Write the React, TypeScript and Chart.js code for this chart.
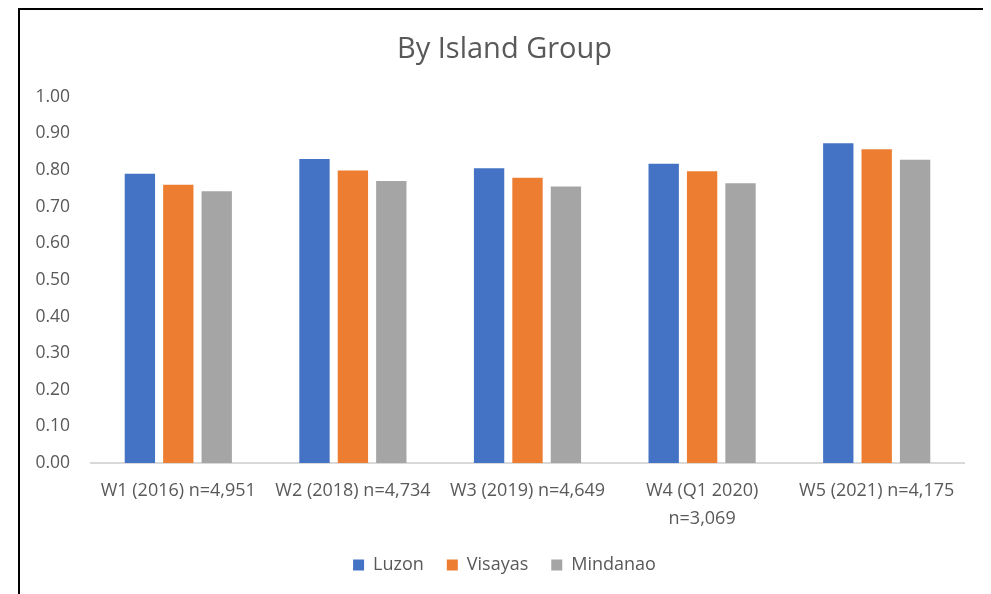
import React, { useEffect, useRef } from "react";
import { Chart, registerables } from "chart.js";

Chart.register(...registerables);

const categories: (string | string[])[] = [
  "W1 (2016) n=4,951",
  "W2 (2018) n=4,734",
  "W3 (2019) n=4,649",
  ["W4 (Q1 2020)", "n=3,069"],
  "W5 (2021) n=4,175",
];

const luzon = [0.79, 0.83, 0.805, 0.817, 0.873];
const visayas = [0.76, 0.799, 0.779, 0.797, 0.857];
const mindanao = [0.742, 0.77, 0.755, 0.764, 0.828];

const FONT = "'Open Sans', sans-serif";
const TEXT = "#595959";

export default function App() {
  const canvasRef = useRef<HTMLCanvasElement | null>(null);

  useEffect(() => {
    const ctx = canvasRef.current;
    if (!ctx) return;
    const chart = new Chart(ctx, {
      type: "bar",
      data: {
        labels: categories,
        datasets: [
          { label: "Luzon", data: luzon, backgroundColor: "#4472C4" },
          { label: "Visayas", data: visayas, backgroundColor: "#ED7D31" },
          { label: "Mindanao", data: mindanao, backgroundColor: "#A5A5A5" },
        ],
      },
      options: {
        animation: false,
        responsive: false,
        maintainAspectRatio: false,
        datasets: {
          bar: { categoryPercentage: 0.66, barPercentage: 0.79 },
        },
        layout: { padding: { left: 0, right: 0, top: 0, bottom: 10 } },
        plugins: {
          title: {
            display: true,
            text: "By Island Group",
            color: TEXT,
            font: { family: FONT, size: 29, weight: "normal" },
            padding: { top: 22, bottom: 30 },
          },
          legend: {
            position: "bottom",
            labels: {
              color: TEXT,
              font: { family: FONT, size: 18 },
              boxWidth: 11,
              boxHeight: 11,
              padding: 23,
            },
          },
          tooltip: { enabled: false },
        },
        scales: {
          x: {
            grid: { display: false, drawTicks: false },
            border: { display: true, color: "#D9D9D9", width: 2 },
            ticks: {
              color: TEXT,
              font: { family: FONT, size: 18, lineHeight: 1.55 },
              padding: 14,
              maxRotation: 0,
              autoSkip: false,
            },
            afterFit: (s: any) => {
              s.height = 70;
            },
          },
          y: {
            min: 0,
            max: 1,
            grid: { display: false, drawTicks: false },
            border: { display: false },
            ticks: {
              stepSize: 0.1,
              color: TEXT,
              font: { family: FONT, size: 17.5 },
              padding: 21,
              callback: (v: any) => Number(v).toFixed(2),
            },
            afterFit: (s: any) => {
              s.width = 71;
            },
          },
          // empty right-hand gutter so the plot ends short of the frame
          gutter: {
            position: "right",
            display: true,
            grid: { display: false, drawTicks: false },
            border: { display: false },
            ticks: { display: false },
            afterFit: (s: any) => {
              s.width = 25;
            },
          },
        },
      },
    });
    return () => chart.destroy();
  }, []);

  return (
    <div
      style={{
        marginLeft: 10,
        width: 969,
        height: 584,
        borderTop: "2px solid #000",
        borderLeft: "2px solid #000",
        borderRight: "2px solid #000",
        background: "#fff",
      }}
    >
      <canvas ref={canvasRef} width={969} height={584} style={{ display: "block" }} />
    </div>
  );
}
